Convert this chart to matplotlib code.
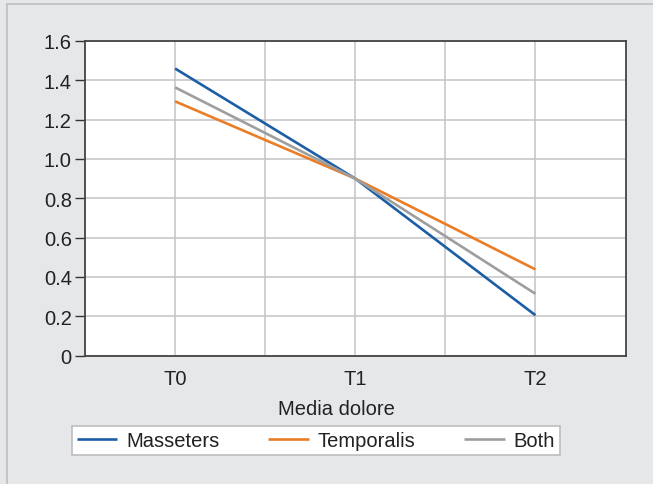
import numpy as np
import matplotlib.pyplot as plt
from matplotlib.lines import Line2D

plt.rcParams['font.family'] = ['Liberation Sans', 'DejaVu Sans']

timepoints = ["T0", "T1", "T2"]
masseters = [1.46, 0.90, 0.205]
temporalis = [1.293, 0.90, 0.438]
both = [1.364, 0.90, 0.314]
series_names = ["Masseters", "Temporalis", "Both"]
yticks = [0, 0.2, 0.4, 0.6, 0.8, 1.0, 1.2, 1.4, 1.6]
ytick_labels = ["0", "0.2", "0.4", "0.6", "0.8", "1.0", "1.2", "1.4", "1.6"]

bg = "#e6e7e9"
colors = ["#1c5ea5", "#ea7d25", "#9e9e9e"]
fs = 14.5

W, H = 653, 485
fig = plt.figure(figsize=(W / 100, H / 100), dpi=100, facecolor=bg)
ax = fig.add_axes([85 / W, 1 - 356.5 / H, (625.5 - 85) / W, (356.5 - 42) / H])
ax.set_facecolor("white")

x = np.arange(len(timepoints))
handles = []
for vals, name, c in zip([masseters, temporalis, both], series_names, colors):
    h, = ax.plot(x, vals, color=c, lw=1.9, label=name, solid_capstyle="butt", zorder=3)
    handles.append(h)

ax.set_xlim(-0.5, 2.5)
ax.set_ylim(0, 1.6)
ax.set_xticks(x)
ax.set_xticklabels(timepoints)
ax.set_xticks([0.5, 1.5], minor=True)
ax.set_yticks(yticks)
ax.set_yticklabels(ytick_labels)
ax.grid(True, which="both", color="#c3c3c7", lw=1.1, zorder=0)
ax.tick_params(axis="x", which="both", length=0, labelsize=fs, colors="#222222", pad=10)
ax.tick_params(axis="y", length=7, width=1.0, color="#333333", labelsize=fs,
               labelcolor="#222222", pad=2.5)
for s in ax.spines.values():
    s.set_color("#444444")
    s.set_linewidth(1.3)

fig.text(336 / W, 1 - 410 / H, "Media dolore", ha="center", va="center",
         fontsize=fs, color="#222222")

leg = fig.legend(handles=handles, labels=series_names, ncol=3, mode="expand",
                 bbox_to_anchor=(72 / W, 1 - 456 / H, (560 - 72) / W, 32 / H),
                 loc="lower left", fontsize=fs, frameon=True, fancybox=False,
                 framealpha=1, facecolor="white",
                 handlelength=2.0, handletextpad=0.45, borderpad=0.25,
                 borderaxespad=0)
leg.get_frame().set_edgecolor("#bdbdc0")
leg.get_frame().set_linewidth(1.2)
for t in leg.get_texts():
    t.set_color("#222222")

# thin frame around the panel
fig.add_artist(Line2D([6.5 / W, 6.5 / W], [0, 1 - 5 / H], color="#bfbfc2", lw=1.2))
fig.add_artist(Line2D([6.5 / W, 1], [1 - 5 / H, 1 - 5 / H], color="#bfbfc2", lw=1.2))

fig.savefig("out.png", dpi=100, facecolor=bg)
